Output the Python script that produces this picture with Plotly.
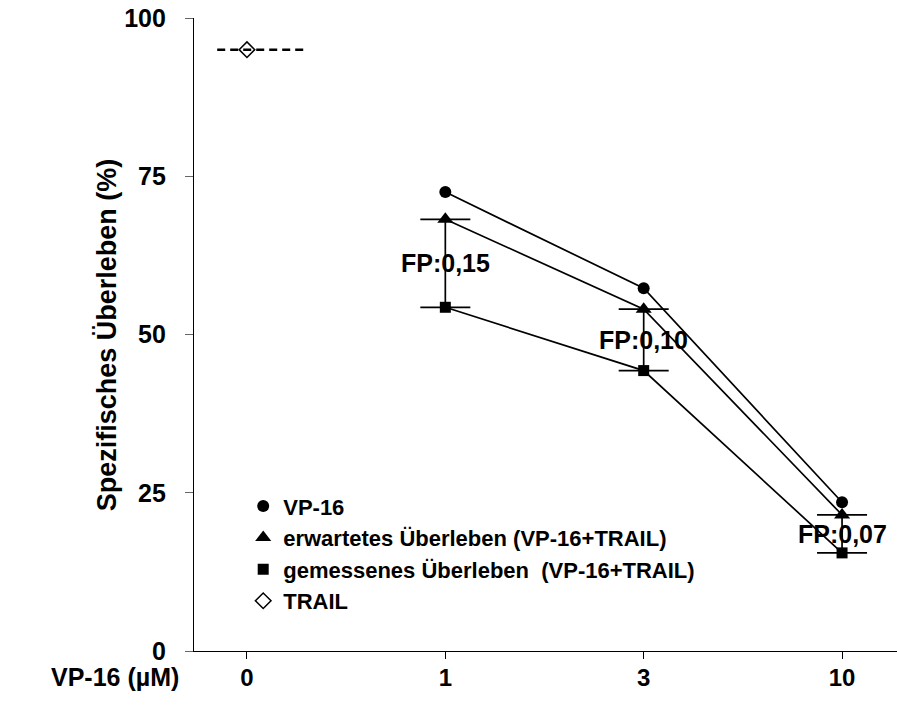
import plotly.graph_objects as go

# VP-16 concentrations (µM) shown as categories on the x axis
categories = ["0", "1", "3", "10"]

# specific survival (%) per concentration
vp16 = [None, 72.5, 57.3, 23.5]
expected = [None, 68.2, 54.0, 21.5]   # expected survival VP-16 + TRAIL
measured = [None, 54.3, 44.3, 15.5]   # measured survival VP-16 + TRAIL
trail = [95.0, None, None, None]      # TRAIL alone

fp_labels = [None, "FP:0,15", "FP:0,10", "FP:0,07"]

y_ticks = [0, 25, 50, 75, 100]

FONT = "Liberation Sans, Arial, sans-serif"
BLACK = "#000000"

fig = go.Figure()

# difference bars between expected and measured survival
diff = [None if e is None else e - m for e, m in zip(expected, measured)]

fig.add_trace(go.Scatter(
    x=categories, y=measured, mode="lines+markers",
    line=dict(color=BLACK, width=1.7),
    marker=dict(symbol="square", size=11, color=BLACK),
    error_y=dict(type="data", array=diff, arrayminus=[0] * 4, symmetric=False,
                 color=BLACK, thickness=1.7, width=25),
    showlegend=False, cliponaxis=False,
))
fig.add_trace(go.Scatter(
    x=categories, y=expected, mode="lines+markers",
    line=dict(color=BLACK, width=1.7),
    marker=dict(symbol="triangle-up", size=14, color=BLACK),
    showlegend=False, cliponaxis=False,
))
fig.add_trace(go.Scatter(
    x=categories, y=vp16, mode="lines+markers",
    line=dict(color=BLACK, width=1.7),
    marker=dict(symbol="circle", size=12, color=BLACK),
    showlegend=False, cliponaxis=False,
))

# TRAIL level as a dashed reference line with an open diamond
fig.add_shape(type="line", xref="x", yref="y", x0=-0.15, x1=0.29,
              y0=trail[0], y1=trail[0],
              line=dict(color=BLACK, width=2.5, dash="8px,5px"))
fig.add_trace(go.Scatter(
    x=categories, y=trail, mode="markers",
    marker=dict(symbol="diamond", size=12, color="white",
                line=dict(color=BLACK, width=1.5)),
    showlegend=False, cliponaxis=False,
))

# legend entries (markers only)
legend_items = [
    ("VP-16", dict(symbol="circle", size=12, color=BLACK)),
    ("erwartetes Überleben (VP-16+TRAIL)", dict(symbol="triangle-up", size=14, color=BLACK)),
    ("gemessenes Überleben  (VP-16+TRAIL)", dict(symbol="square", size=11, color=BLACK)),
    ("TRAIL", dict(symbol="diamond", size=12, color="white", line=dict(color=BLACK, width=1.5))),
]
for name, mk in legend_items:
    fig.add_trace(go.Scatter(x=[None], y=[None], mode="markers", name=name.replace("  ", "\u00a0 "),
                             marker=mk, showlegend=True))

# FP labels midway between expected and measured values
for i, (e, m, lab) in enumerate(zip(expected, measured, fp_labels)):
    if lab is None:
        continue
    fig.add_annotation(x=i, y=(e + m) / 2, text=lab, showarrow=False,
                       xanchor="center", yanchor="middle",
                       font=dict(family=FONT, size=25, color=BLACK, weight="bold"))

fig.add_annotation(xref="paper", yref="paper", x=-0.124, y=0.5, text="Spezifisches Überleben (%)",
                   textangle=-90, showarrow=False, xanchor="center", yanchor="middle",
                   font=dict(family=FONT, size=27, color=BLACK, weight="bold"))
fig.add_annotation(xref="paper", yref="paper", x=-0.112, y=-0.041, text="VP-16 (µM)",
                   showarrow=False, xanchor="center", yanchor="middle",
                   font=dict(family=FONT, size=25, color=BLACK, weight="bold"))

fig.update_layout(
    width=897, height=717,
    margin=dict(l=194, r=0, t=18, b=66),
    plot_bgcolor="white", paper_bgcolor="white",
    font=dict(family=FONT, color=BLACK),
    legend=dict(x=0.07, y=0.262, xanchor="left", yanchor="top",
                bgcolor="rgba(0,0,0,0)",
                font=dict(family=FONT, size=22, color=BLACK, weight="bold"),
                tracegroupgap=0, itemwidth=30),
    xaxis=dict(type="category", range=[-0.267, 3.277],
               showgrid=False, zeroline=False,
               showline=True, linecolor=BLACK, linewidth=1.2,
               ticks="outside", ticklen=7, tickcolor=BLACK, tickwidth=1,
               ticklabelstandoff=-2,
               tickfont=dict(family=FONT, size=24, color=BLACK, weight="bold")),
    yaxis=dict(range=[0, 100], tickvals=y_ticks,
               showgrid=False, zeroline=False,
               showline=True, linecolor=BLACK, linewidth=1.2,
               ticks="outside", ticklen=8, tickcolor="#666666", tickwidth=1,
               ticklabelstandoff=14,
               tickfont=dict(family=FONT, size=25, color=BLACK, weight="bold")),
)

fig.write_html("out.html")
